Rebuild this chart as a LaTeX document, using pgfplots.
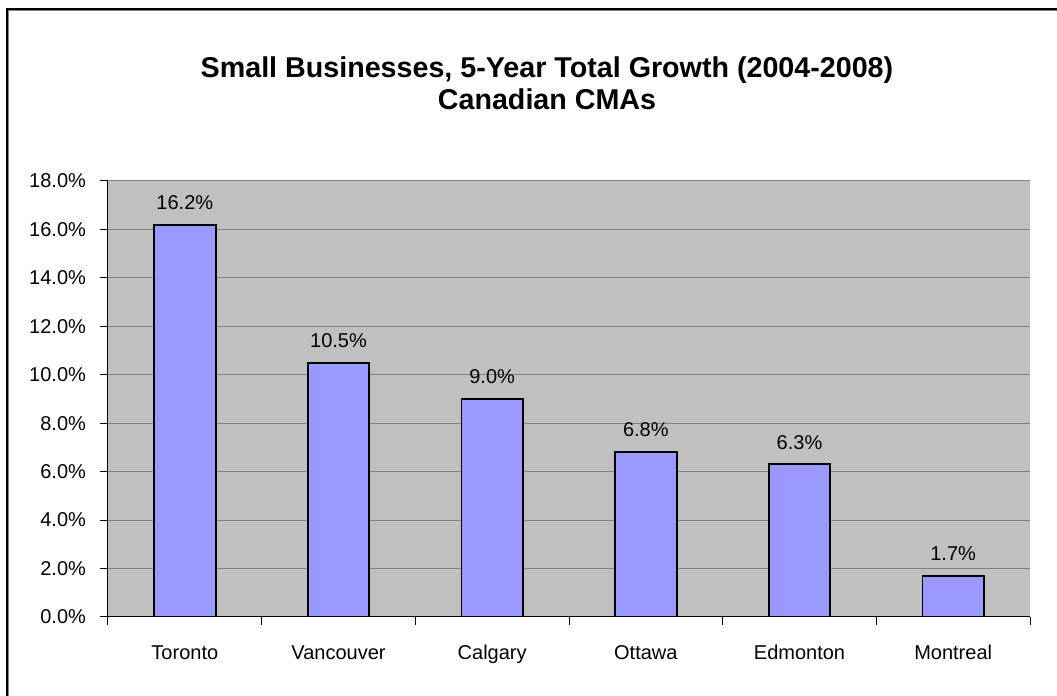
\documentclass[border=0pt]{standalone}
\usepackage{fontspec}
\setmainfont{Liberation Sans}
\usepackage{pgfplots}
\pgfplotsset{compat=1.18}
\definecolor{plotgray}{RGB}{192,192,192}
\definecolor{barblue}{RGB}{153,153,255}
\definecolor{gridgray}{RGB}{128,128,128}

\begin{document}
\begin{tikzpicture}
\useasboundingbox (0,0) rectangle (792.75pt,522pt);
% chart area frame, cut off at the right and bottom
\draw[black, line width=1.5pt] (5.25pt,-20pt) -- (5.25pt,515.25pt) -- (820pt,515.25pt);
\draw[gray, line width=0.75pt] (6.4pt,-20pt) -- (6.4pt,514.1pt) -- (820pt,514.1pt);

\node[font=\fontsize{21.5}{26}\selectfont\bfseries, anchor=base, inner sep=0pt]
  at (410.25pt,463.5pt) {Small Businesses, 5-Year Total Growth (2004-2008)};
\node[font=\fontsize{21.5}{26}\selectfont\bfseries, anchor=base, inner sep=0pt]
  at (410.25pt,439.5pt) {Canadian CMAs};

\begin{axis}[
    at={(81pt,59.25pt)}, anchor=south west,
    scale only axis,
    width=691.5pt, height=327pt,
    xmin=0, xmax=6,
    ymin=0, ymax=18,
    ybar, bar width=0.4,
    axis background/.style={fill=plotgray},
    axis x line*=bottom, axis y line*=left,
    axis line style={black, line width=0.75pt, -},
    tick align=outside,
    major tick length=6pt,
    tick style={black, line width=0.75pt},
    xtick={0,1,2,3,4,5,6},
    xticklabels={},
    extra x ticks={0.5,1.5,2.5,3.5,4.5,5.5},
    extra x tick labels={Toronto,Vancouver,Calgary,Ottawa,Edmonton,Montreal},
    extra x tick style={major tick length=0pt, grid=none},
    xticklabel style={anchor=base, yshift=-32pt},
    ytick={0,2,4,6,8,10,12,14,16,18},
    yticklabels={0.0\%,2.0\%,4.0\%,6.0\%,8.0\%,10.0\%,12.0\%,14.0\%,16.0\%,18.0\%},
    yticklabel style={xshift=-7pt},
    tick label style={font=\fontsize{15}{18}\selectfont},
    ymajorgrids,
    grid style={gridgray, line width=0.75pt},
]
\addplot[fill=barblue, draw=black, line width=1.4pt,
    point meta=explicit symbolic,
    nodes near coords,
    nodes near coords style={font=\fontsize{15}{18}\selectfont, anchor=base, yshift=11.5pt}]
coordinates {
    (0.5,16.2) [16.2\%]
    (1.5,10.5) [10.5\%]
    (2.5,9.0)  [9.0\%]
    (3.5,6.8)  [6.8\%]
    (4.5,6.3)  [6.3\%]
    (5.5,1.7)  [1.7\%]
};
\end{axis}
\end{tikzpicture}
\end{document}
